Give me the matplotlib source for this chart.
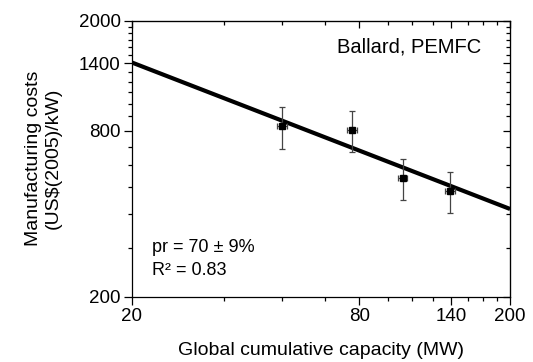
"""Ballard PEMFC: Lernkurve der Herstellkosten (log-log)."""

import matplotlib
import numpy as np

matplotlib.use("Agg")
import matplotlib.pyplot as plt
from matplotlib.ticker import FixedLocator, NullFormatter

plt.rcParams["font.family"] = ["Liberation Sans", "DejaVu Sans"]

# Messpunkte
kapazitaet = np.array([50.0, 76.5, 104.0, 138.5])
kosten = np.array([831.0, 803.0, 539.0, 484.0])
kosten_oben = np.array([973.0, 941.0, 629.0, 567.0])
kosten_unten = np.array([688.0, 669.0, 448.0, 401.0])
kap_fehler_rel = np.array([0.03, 0.03, 0.03, 0.03])

# Ausgleichsgerade (Endpunkte)
fit_x = np.array([20.0, 200.0])
fit_y = np.array([1412.0, 416.0])

x_major = [20, 80, 140, 200]
x_minor = np.arange(20, 201, 15)
y_major = [200, 800, 1400, 2000]
y_minor = np.arange(200, 2001, 100)

fig = plt.figure(figsize=(5.33, 3.62), dpi=100)
ax = fig.add_axes([0.247, 0.180, 0.710, 0.763])

ax.set_xscale("log")
ax.set_yscale("log")
ax.set_xlim(20, 200)
ax.set_ylim(200, 2000)

ax.plot(fit_x, fit_y, color="black", lw=3.0, solid_capstyle="butt", zorder=3)

xerr = np.vstack([kapazitaet * kap_fehler_rel, kapazitaet * kap_fehler_rel])
yerr = np.vstack([kosten - kosten_unten, kosten_oben - kosten])
ax.errorbar(kapazitaet, kosten, yerr=yerr, xerr=xerr, fmt="s", color="black",
            ms=4.5, ecolor="#444444", elinewidth=0.9, capsize=2.5, capthick=0.9, zorder=4)

for achse, major, minor in [(ax.xaxis, x_major, x_minor), (ax.yaxis, y_major, y_minor)]:
    achse.set_major_locator(FixedLocator(major))
    achse.set_minor_locator(FixedLocator([v for v in minor if v not in major]))
    achse.set_minor_formatter(NullFormatter())
ax.set_xticklabels([str(v) for v in x_major])
ax.set_yticklabels([str(v) for v in y_major])

ax.tick_params(which="both", direction="out", labelsize=13.5, width=0.9, color="black")
ax.tick_params(which="major", length=6, pad=2)
ax.tick_params(which="minor", length=3)

# gespiegelte Ticks innen oben/rechts
ax_oben = ax.secondary_xaxis("top")
ax_oben.xaxis.set_major_locator(FixedLocator(x_major))
ax_oben.xaxis.set_minor_locator(FixedLocator([v for v in x_minor if v not in x_major]))
ax_oben.tick_params(which="both", direction="in", labeltop=False, width=0.9)
ax_oben.tick_params(which="major", length=5)
ax_oben.tick_params(which="minor", length=3)
ax_oben.xaxis.set_major_formatter(NullFormatter())
ax_oben.xaxis.set_minor_formatter(NullFormatter())

ax_rechts = ax.secondary_yaxis("right")
ax_rechts.yaxis.set_major_locator(FixedLocator(y_major))
ax_rechts.yaxis.set_minor_locator(FixedLocator([v for v in y_minor if v not in y_major]))
ax_rechts.tick_params(which="both", direction="in", labelright=False, width=0.9)
ax_rechts.tick_params(which="major", length=5)
ax_rechts.tick_params(which="minor", length=3)
ax_rechts.yaxis.set_major_formatter(NullFormatter())
ax_rechts.yaxis.set_minor_formatter(NullFormatter())

for spine in ax.spines.values():
    spine.set_linewidth(0.9)

ax.set_xlabel("Global cumulative capacity (MW)", fontsize=14, labelpad=12)
ax.set_ylabel("Manufacturing costs\n(US$(2005)/kW)", fontsize=14, labelpad=12)

ax.text(0.925, 0.905, "Ballard, PEMFC", transform=ax.transAxes, ha="right", va="center", fontsize=14.5)
ax.text(0.053, 0.177, "pr = 70 ± 9%", transform=ax.transAxes, ha="left", va="center", fontsize=13)
ax.text(0.053, 0.094, "R² = 0.83", transform=ax.transAxes, ha="left", va="center", fontsize=13)

fig.savefig("out.png", dpi=100)
